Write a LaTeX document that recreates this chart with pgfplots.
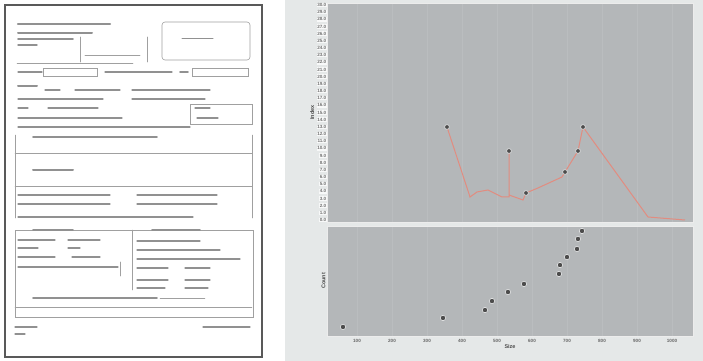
\documentclass[border=0pt]{standalone}
\usepackage{fontspec}
\setmainfont{Liberation Sans}
\usepackage{pgfplots}
\pgfplotsset{compat=1.18}
\definecolor{plotgray}{RGB}{180,183,185}
\definecolor{panelbg}{RGB}{229,232,232}
\definecolor{salmon}{RGB}{226,140,128}
\definecolor{formline}{RGB}{160,160,160}
\definecolor{formtext}{RGB}{145,145,145}
\begin{document}
\begin{tikzpicture}
\path[use as bounding box, fill=white] (0,0) rectangle (703bp,-361bp);
% right panel background
\fill[panelbg] (285bp,0) rectangle (703bp,-361bp);
% ---------- scanned form (left) ----------
\begin{scope}[x=1bp,y=-1bp]
\draw[black!65, line width=1.4bp] (5,5) rectangle (262,357);
\begin{scope}[line cap=round]
% header text
\draw[formtext, line width=2.2bp] (18,24) -- (110,24);
\draw[formtext, line width=2bp] (18,33) -- (92,33);
\draw[formtext, line width=1.6bp] (18,39) -- (73,39);
\draw[formtext, line width=1.4bp] (18,45) -- (37,45);
% top box
\draw[formline, line width=0.6bp] (80,37) -- (80,62) (147,37) -- (147,62) (85,55) -- (140,55);
\draw[formline, line width=0.6bp, rounded corners=3bp] (162,22) rectangle (250,60);
\draw[formtext, line width=1bp] (182,38) -- (213,38);
\draw[formline, line width=0.5bp] (17,63) -- (133,63);
% row of fields
\draw[formtext, line width=1.3bp] (18,72) -- (42,72);
\draw[formline, line width=0.6bp] (43,68) rectangle (97,76);
\draw[formtext, line width=1.3bp] (105,72) -- (172,72);
\draw[formtext, line width=1.6bp] (180,72) -- (188,72);
\draw[formline, line width=0.6bp] (192,68) rectangle (248,76);
% heading block
\draw[formtext, line width=2bp] (18,86) -- (37,86);
\draw[formtext, line width=1.1bp] (45,90) -- (60,90) (75,90) -- (120,90) (132,90) -- (210,90);
\draw[formtext, line width=1.1bp] (18,99) -- (103,99) (132,99) -- (205,99);
\draw[formtext, line width=1.1bp] (18,108) -- (28,108) (48,108) -- (98,108) (195,108) -- (210,108);
\draw[formline, line width=0.5bp] (190,104) rectangle (252,124);
\draw[formtext, line width=1.1bp] (18,118) -- (122,118) (197,118) -- (218,118);
\draw[formtext, line width=1.1bp] (18,127) -- (190,127);
% section box
\draw[formline, line width=0.5bp] (15,135) -- (15,218) (252,135) -- (252,218);
\draw[formtext, line width=1.8bp] (33,137) -- (157,137);
\draw[formline, line width=0.4bp] (15,153) -- (252,153);
\draw[formtext, line width=2bp] (33,170) -- (73,170);
\draw[formline, line width=0.4bp] (15,186) -- (252,186);
\draw[formtext, line width=1.1bp] (18,195) -- (110,195) (137,195) -- (217,195);
\draw[formtext, line width=1.1bp] (18,204) -- (110,204) (137,204) -- (217,204);
\draw[formtext, line width=1.1bp] (18,217) -- (193,217);
% lower table
\draw[formline, line width=0.6bp] (15,230) rectangle (253,317);
\draw[formline, line width=0.5bp] (132,230) -- (132,290);
\draw[formtext, line width=1.6bp] (33,230) -- (73,230) (152,230) -- (200,230);
\draw[formtext, line width=1.1bp] (18,240) -- (55,240) (68,240) -- (100,240);
\draw[formtext, line width=1.1bp] (18,248) -- (38,248) (68,248) -- (80,248);
\draw[formtext, line width=1.1bp] (18,257) -- (55,257) (72,257) -- (100,257);
\draw[formtext, line width=1.1bp] (18,267) -- (118,267);
\draw[formline, line width=0.6bp] (120,262) -- (120,276);
\draw[formtext, line width=1.1bp] (137,241) -- (200,241) (137,250) -- (220,250) (137,259) -- (240,259);
\draw[formtext, line width=1.1bp] (137,268) -- (168,268) (185,268) -- (210,268);
\draw[formtext, line width=1.1bp] (137,280) -- (168,280) (185,280) -- (210,280);
\draw[formtext, line width=1.1bp] (137,288) -- (165,288) (185,288) -- (208,288);
\draw[formtext, line width=1.8bp] (33,298) -- (157,298);
\draw[formline, line width=0.4bp] (160,298) -- (205,298);
\draw[formline, line width=0.4bp] (15,307) -- (252,307);
\draw[formtext, line width=1.1bp] (15,327) -- (37,327) (203,327) -- (250,327);
\draw[formtext, line width=1.1bp] (15,334) -- (25,334);
\end{scope}
\end{scope}
% ---------- top chart ----------
\begin{axis}[
  at={(327bp,-3bp)}, anchor=north west,
  scale only axis, width=366bp, height=219bp,
  xmin=0.143, xmax=10.6, ymin=-0.28, ymax=30.28,
  axis background/.style={fill=plotgray},
  axis line style={draw=white!85!gray, line width=0.8bp},
  xtick={1,...,10}, xticklabels={},
  xmajorgrids, major grid style={draw=white!8!plotgray, line width=0.3bp},
  ytick={0,1,...,30},
  yticklabels={0.0,1.0,2.0,3.0,4.0,5.0,6.0,7.0,8.0,9.0,10.0,11.0,12.0,13.0,14.0,15.0,16.0,17.0,18.0,19.0,20.0,21.0,22.0,23.0,24.0,25.0,26.0,27.0,28.0,29.0,30.0},
  yticklabel style={font=\fontsize{4.6}{5}\bfseries\selectfont, text=black!55, fill=white!75!panelbg, inner sep=0.6bp},
  /pgf/number format/assume math mode=true,
  tick style={draw=none},
  ylabel={Index}, ylabel style={font=\fontsize{5.5}{6}\bfseries\selectfont, text=black!70},
  ylabel shift=-1bp,
]
\addplot[salmon, line width=1bp, no marks] coordinates {
(3.571,12.98) (4.229,3.21) (4.429,3.91) (4.743,4.19) (5.143,3.21)
(5.343,3.21) (5.343,9.63) (5.343,3.49) (5.743,2.79) (5.829,3.77)
(6.171,4.47) (6.857,6.0) (6.943,6.70) (7.314,9.63) (7.457,12.98)
(9.314,0.42) (10.371,0.0)
};
\addplot[only marks, mark=*, mark size=2.4bp,
  mark options={fill=black!70, draw=white!70!plotgray, line width=0.6bp}] coordinates {
(3.571,12.98) (5.343,9.63) (5.829,3.77) (6.943,6.70) (7.314,9.63) (7.457,12.98)
};
\end{axis}
% ---------- bottom chart ----------
\begin{axis}[
  at={(327bp,-226bp)}, anchor=north west,
  scale only axis, width=366bp, height=110bp,
  xmin=0.143, xmax=10.6, ymin=0, ymax=10,
  axis background/.style={fill=plotgray},
  axis line style={draw=white!85!gray, line width=0.8bp},
  xtick={1,...,10},
  xticklabels={100,200,300,400,500,600,700,800,900,1000},
  xticklabel style={font=\fontsize{4.6}{5}\bfseries\selectfont, text=black!60},
  /pgf/number format/assume math mode=true,
  xmajorgrids, major grid style={draw=white!8!plotgray, line width=0.3bp},
  ytick=\empty,
  tick style={draw=none},
  xlabel={Size}, xlabel style={font=\fontsize{5.5}{6}\bfseries\selectfont, text=black!70},
  xlabel shift=-5bp,
  ylabel={Count}, ylabel style={font=\fontsize{5.5}{6}\bfseries\selectfont, text=black!70},
  ylabel shift=-2bp,
]
\addplot[only marks, mark=*, mark size=2.7bp,
  mark options={fill=black!70, draw=white!70!plotgray, line width=0.6bp}] coordinates {
(0.6,0.82) (3.457,1.64) (4.657,2.36) (4.857,3.18) (5.314,4.0) (5.771,4.73)
(6.771,5.64) (6.8,6.45) (7.0,7.18) (7.286,7.91) (7.314,8.82) (7.429,9.55)
};
\end{axis}
\end{tikzpicture}
\end{document}
